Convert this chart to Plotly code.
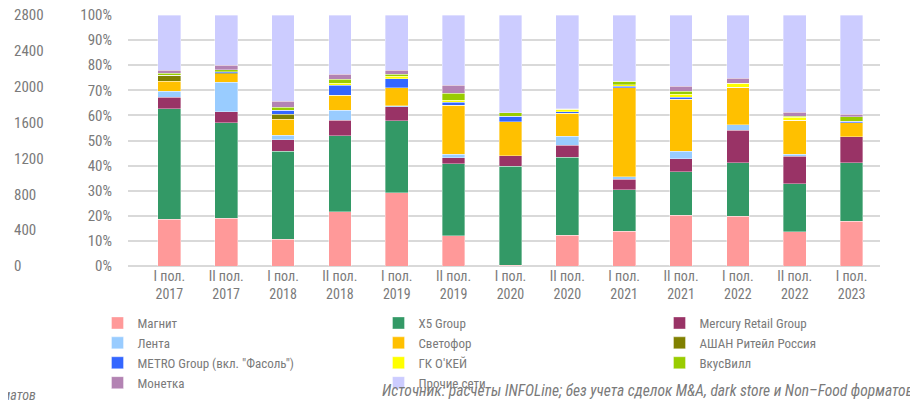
import plotly.graph_objects as go

categories = ["I пол.<br>2017", "II пол.<br>2017", "I пол.<br>2018", "II пол.<br>2018",
              "I пол.<br>2019", "II пол.<br>2019", "I пол.<br>2020", "II пол.<br>2020",
              "I пол.<br>2021", "II пол.<br>2021", "I пол.<br>2022", "II пол.<br>2022",
              "I пол.<br>2023"]

magnit   = [18.7, 19.0, 10.6, 21.7, 29.1, 12.0, 0.3, 12.2, 13.8, 20.3, 19.8, 13.7, 17.9]
x5       = [44.0, 38.0, 35.2, 30.1, 28.7, 28.8, 39.4, 31.1, 16.6, 17.2, 21.4, 19.1, 23.3]
mercury  = [4.6, 4.4, 4.6, 6.2, 5.6, 2.4, 4.3, 4.8, 4.1, 5.3, 12.9, 10.9, 10.2]
lenta    = [2.3, 11.9, 1.6, 4.0, 0.5, 1.3, 0.0, 3.6, 1.0, 3.0, 2.2, 0.8, 0.0]
svetofor = [4.0, 3.3, 6.4, 6.0, 7.2, 19.5, 13.4, 9.1, 35.6, 20.7, 15.0, 13.5, 5.7]
auchan   = [2.4, 0.3, 2.0, 0.0, 0.0, 0.0, 0.0, 0.0, 0.0, 0.0, 0.0, 0.0, 0.0]
metro    = [0.0, 0.5, 1.6, 4.1, 3.6, 1.2, 2.2, 0.6, 0.6, 0.7, 0.0, 0.0, 0.5]
okey     = [0.0, 0.0, 0.0, 0.7, 0.8, 0.9, 0.0, 1.0, 0.6, 1.2, 1.5, 1.3, 0.0]
vkusvill = [0.7, 0.8, 1.3, 1.6, 0.9, 2.8, 1.5, 0.0, 1.4, 1.3, 0.0, 0.3, 1.9]
monetka  = [1.3, 1.8, 2.4, 2.0, 1.6, 3.1, 0.0, 0.3, 0.0, 1.9, 2.0, 1.6, 0.9]
others   = [22.0, 20.0, 34.3, 23.6, 22.0, 28.0, 38.9, 37.3, 26.3, 28.4, 25.2, 38.8, 39.6]

series_names = ["Магнит", "X5 Group", "Mercury Retail Group", "Лента", "Светофор",
                "АШАН Ритейл Россия", "METRO Group (вкл. \"Фасоль\")", "ГК О'КЕЙ",
                "ВкусВилл", "Монетка", "Прочие сети"]
series_values = [magnit, x5, mercury, lenta, svetofor, auchan, metro, okey, vkusvill, monetka, others]
series_colors = ["#FF9999", "#339966", "#993366", "#99CCFF", "#FFC000", "#808000",
                 "#3366FF", "#FFFF00", "#99CC00", "#B383B3", "#CCCCFF"]

secondary_ticks = [0, 400, 800, 1200, 1600, 2000, 2400, 2800]

FONT = "Roboto Condensed, Liberation Sans Narrow, Roboto, sans-serif"
GRAY = "#7a7a7a"

fig = go.Figure()
for name, vals, col in zip(series_names, series_values, series_colors):
    fig.add_trace(go.Bar(x=categories, y=vals, name=name,
                         marker=dict(color=col, line=dict(color="rgba(255,255,255,0.6)", width=0.6))))

# invisible helper trace so that the secondary (0-2800) axis is drawn
fig.add_trace(go.Scatter(x=[categories[0]], y=[secondary_ticks[0]], yaxis="y2", mode="markers",
                         marker=dict(opacity=0), showlegend=False, hoverinfo="skip"))

OFF = 8  # page body margin in the browser
W, H = 918 - OFF, 401 - OFF
# plot area in reference pixels: x 128..880, y 15..266
ml, mr, mt, mb = 0, W - (880 - OFF), 15 - OFF, H - (266 - OFF)
pw = W - ml - mr
ph = H - mt - mb
x0 = (128 - OFF - ml) / pw


def px_x(px):
    return (px - OFF - ml) / pw


def px_y(py):
    return (H - mb - (py - OFF)) / ph


fig.update_layout(
    width=W, height=H,
    margin=dict(l=ml, r=mr, t=mt, b=mb, autoexpand=False),
    barmode="stack", barnorm="percent", bargap=0.6,
    plot_bgcolor="white", paper_bgcolor="white",
    font=dict(family=FONT, size=14, color=GRAY),
    xaxis=dict(domain=[x0, 1], showgrid=False, showline=False, ticks="",
               tickfont=dict(size=14, color=GRAY), automargin=False),
    yaxis=dict(range=[0, 100], dtick=10, ticksuffix="%", showgrid=True,
               gridcolor="#d9d9d9", gridwidth=2, zeroline=True, zerolinecolor="#d9d9d9",
               zerolinewidth=2, showline=False, ticks="", ticklabelstandoff=15,
               ticklabeloverflow="allow",
               tickfont=dict(size=15, color=GRAY), automargin=False),
    yaxis2=dict(range=[0, 2800], tickvals=secondary_ticks, overlaying="y", anchor="free",
                position=0, side="right", showgrid=False, zeroline=False, showline=False,
                ticks="", ticklabelstandoff=5, ticklabeloverflow="allow",
                tickfont=dict(size=15, color=GRAY), automargin=False),
    legend=dict(orientation="h", xref="container", x=(97.5 - OFF) / W, xanchor="left",
                yref="container", y=(H - (308 - OFF)) / H, yanchor="top",
                traceorder="normal", entrywidth=236, entrywidthmode="pixels",
                font=dict(size=13, color=GRAY), itemwidth=30, tracegroupgap=0),
    showlegend=True,
)

src = "Источник: расчеты INFOLine; без учета сделок M&A, dark store и Non–Food форматов"
fig.add_annotation(text="<i>" + src + "</i>", xref="paper", yref="paper",
                   x=px_x(915), y=px_y(391), xanchor="right", yanchor="middle",
                   showarrow=False, font=dict(size=15.5, color=GRAY, family=FONT))
fig.add_annotation(text="<i>" + src + "</i>", xref="paper", yref="paper",
                   x=px_x(38), y=px_y(395), xanchor="right", yanchor="middle",
                   showarrow=False, font=dict(size=14, color=GRAY, family=FONT))

fig.write_html("out.html")
